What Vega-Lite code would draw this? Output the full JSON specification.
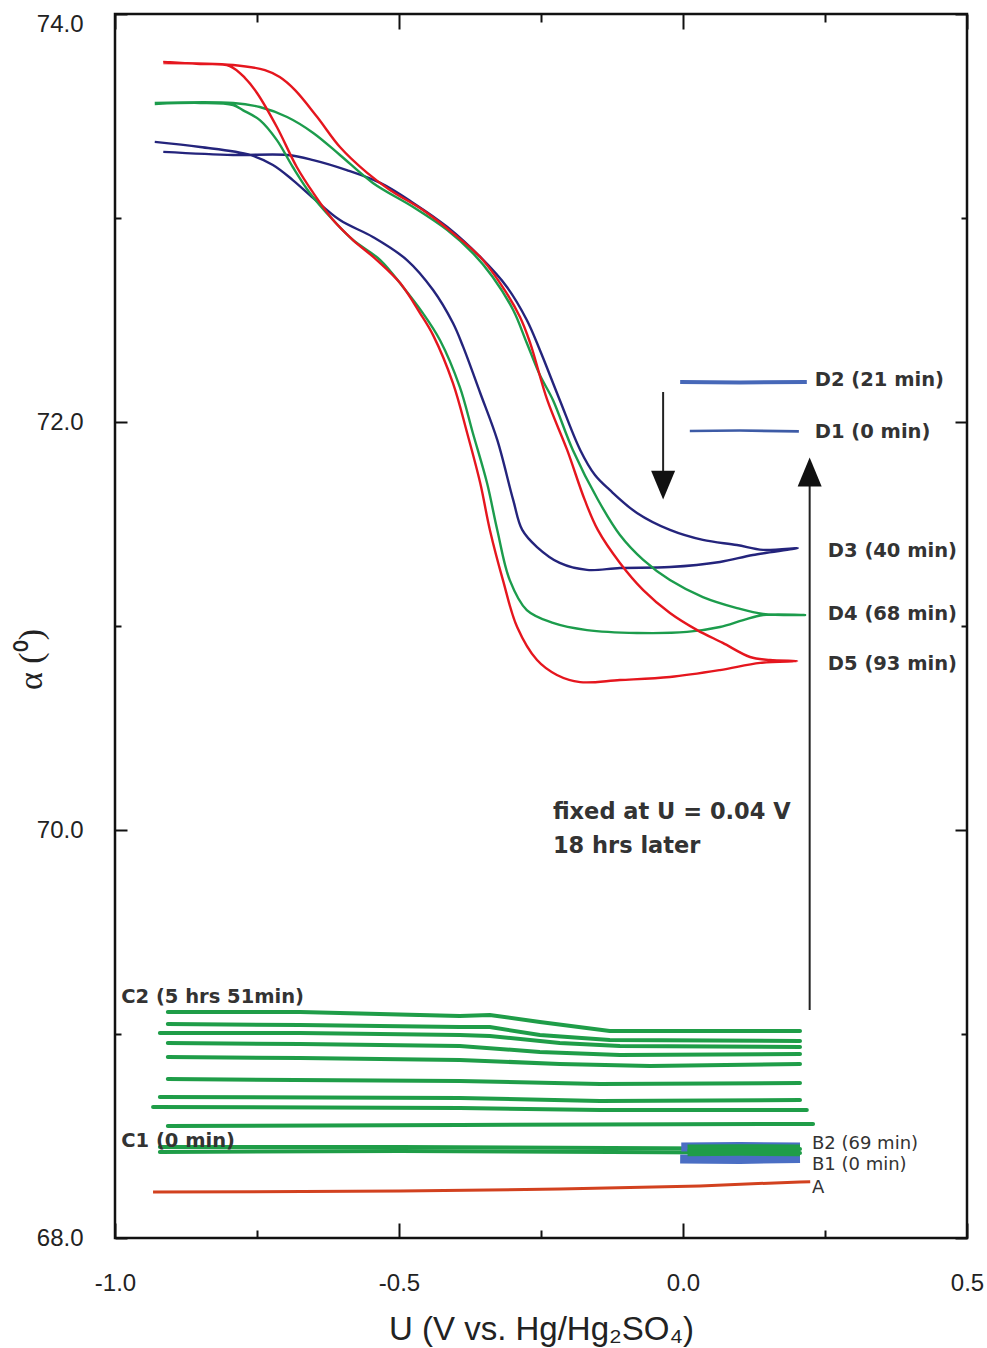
{
  "$schema": "https://vega.github.io/schema/vega-lite/v6.json",
  "width": 852,
  "height": 1224,
  "autosize": {"type": "none"},
  "padding": {"left": 115, "top": 14, "right": 20, "bottom": 110},
  "background": "white",
  "config": {
    "view": {"stroke": "#111", "strokeWidth": 2.5},
    "axis": {
      "grid": false,
      "domain": false,
      "labelFont": "Liberation Sans",
      "labelFontSize": 24,
      "labelColor": "#222",
      "tickColor": "#111",
      "tickWidth": 2,
      "titleFont": "Liberation Sans",
      "titleFontWeight": "normal",
      "titleColor": "#222"
    }
  },
  "datasets": {
    "curves": [
      {"g": "C", "s": "c10", "i": 1, "x": -0.907, "y": 69.108},
      {"g": "C", "s": "c10", "i": 2, "x": -0.674, "y": 69.108},
      {"g": "C", "s": "c10", "i": 3, "x": -0.393, "y": 69.088},
      {"g": "C", "s": "c10", "i": 4, "x": -0.34, "y": 69.093},
      {"g": "C", "s": "c10", "i": 5, "x": -0.252, "y": 69.059},
      {"g": "C", "s": "c10", "i": 6, "x": -0.129, "y": 69.015},
      {"g": "C", "s": "c10", "i": 7, "x": 0.03, "y": 69.015},
      {"g": "C", "s": "c10", "i": 8, "x": 0.206, "y": 69.015},
      {"g": "C", "s": "c9", "i": 1, "x": -0.907, "y": 69.049},
      {"g": "C", "s": "c9", "i": 2, "x": -0.674, "y": 69.044},
      {"g": "C", "s": "c9", "i": 3, "x": -0.393, "y": 69.034},
      {"g": "C", "s": "c9", "i": 4, "x": -0.34, "y": 69.034},
      {"g": "C", "s": "c9", "i": 5, "x": -0.252, "y": 68.995},
      {"g": "C", "s": "c9", "i": 6, "x": -0.129, "y": 68.971},
      {"g": "C", "s": "c9", "i": 7, "x": 0.206, "y": 68.966},
      {"g": "C", "s": "c8", "i": 1, "x": -0.921, "y": 69.005},
      {"g": "C", "s": "c8", "i": 2, "x": -0.674, "y": 69.005},
      {"g": "C", "s": "c8", "i": 3, "x": -0.393, "y": 68.995},
      {"g": "C", "s": "c8", "i": 4, "x": -0.34, "y": 68.99},
      {"g": "C", "s": "c8", "i": 5, "x": -0.217, "y": 68.956},
      {"g": "C", "s": "c8", "i": 6, "x": -0.111, "y": 68.941},
      {"g": "C", "s": "c8", "i": 7, "x": 0.206, "y": 68.936},
      {"g": "C", "s": "c7", "i": 1, "x": -0.907, "y": 68.956},
      {"g": "C", "s": "c7", "i": 2, "x": -0.674, "y": 68.951},
      {"g": "C", "s": "c7", "i": 3, "x": -0.393, "y": 68.941},
      {"g": "C", "s": "c7", "i": 4, "x": -0.252, "y": 68.912},
      {"g": "C", "s": "c7", "i": 5, "x": -0.111, "y": 68.897},
      {"g": "C", "s": "c7", "i": 6, "x": 0.206, "y": 68.902},
      {"g": "C", "s": "c6", "i": 1, "x": -0.907, "y": 68.887},
      {"g": "C", "s": "c6", "i": 2, "x": -0.674, "y": 68.882},
      {"g": "C", "s": "c6", "i": 3, "x": -0.393, "y": 68.873},
      {"g": "C", "s": "c6", "i": 4, "x": -0.217, "y": 68.853},
      {"g": "C", "s": "c6", "i": 5, "x": -0.058, "y": 68.843},
      {"g": "C", "s": "c6", "i": 6, "x": 0.206, "y": 68.853},
      {"g": "C", "s": "c5", "i": 1, "x": -0.907, "y": 68.779},
      {"g": "C", "s": "c5", "i": 2, "x": -0.393, "y": 68.77},
      {"g": "C", "s": "c5", "i": 3, "x": -0.146, "y": 68.755},
      {"g": "C", "s": "c5", "i": 4, "x": 0.206, "y": 68.76},
      {"g": "C", "s": "c4", "i": 1, "x": -0.921, "y": 68.691},
      {"g": "C", "s": "c4", "i": 2, "x": -0.393, "y": 68.686},
      {"g": "C", "s": "c4", "i": 3, "x": -0.146, "y": 68.672},
      {"g": "C", "s": "c4", "i": 4, "x": 0.206, "y": 68.676},
      {"g": "C", "s": "c3", "i": 1, "x": -0.933, "y": 68.642},
      {"g": "C", "s": "c3", "i": 2, "x": -0.393, "y": 68.637},
      {"g": "C", "s": "c3", "i": 3, "x": -0.146, "y": 68.627},
      {"g": "C", "s": "c3", "i": 4, "x": 0.218, "y": 68.627},
      {"g": "C", "s": "c2", "i": 1, "x": -0.907, "y": 68.549},
      {"g": "C", "s": "c2", "i": 2, "x": -0.393, "y": 68.554},
      {"g": "C", "s": "c2", "i": 3, "x": 0.229, "y": 68.559},
      {"g": "C", "s": "c1a", "i": 1, "x": -0.921, "y": 68.446},
      {"g": "C", "s": "c1a", "i": 2, "x": -0.498, "y": 68.446},
      {"g": "C", "s": "c1a", "i": 3, "x": 0.206, "y": 68.436},
      {"g": "C", "s": "c1b", "i": 1, "x": -0.921, "y": 68.422},
      {"g": "C", "s": "c1b", "i": 2, "x": -0.498, "y": 68.426},
      {"g": "C", "s": "c1b", "i": 3, "x": 0.206, "y": 68.417},

      {"g": "A", "s": "A", "i": 1, "x": -0.933, "y": 68.225},
      {"g": "A", "s": "A", "i": 2, "x": -0.498, "y": 68.23},
      {"g": "A", "s": "A", "i": 3, "x": -0.217, "y": 68.24},
      {"g": "A", "s": "A", "i": 4, "x": 0.03, "y": 68.255},
      {"g": "A", "s": "A", "i": 5, "x": 0.206, "y": 68.275},
      {"g": "A", "s": "A", "i": 6, "x": 0.224, "y": 68.276},

      {"g": "B1", "s": "b1a", "i": 1, "x": -0.003, "y": 68.446},
      {"g": "B1", "s": "b1a", "i": 2, "x": 0.1, "y": 68.448},
      {"g": "B1", "s": "b1a", "i": 3, "x": 0.206, "y": 68.446},
      {"g": "B1", "s": "b1b", "i": 1, "x": -0.005, "y": 68.387},
      {"g": "B1", "s": "b1b", "i": 2, "x": 0.1, "y": 68.385},
      {"g": "B1", "s": "b1b", "i": 3, "x": 0.206, "y": 68.39},
      {"g": "B2", "s": "b2a", "i": 1, "x": 0.008, "y": 68.441},
      {"g": "B2", "s": "b2a", "i": 2, "x": 0.1, "y": 68.443},
      {"g": "B2", "s": "b2a", "i": 3, "x": 0.206, "y": 68.441},
      {"g": "B2", "s": "b2b", "i": 1, "x": 0.008, "y": 68.418},
      {"g": "B2", "s": "b2b", "i": 2, "x": 0.1, "y": 68.42},
      {"g": "B2", "s": "b2b", "i": 3, "x": 0.206, "y": 68.418},

      {"g": "D3", "s": "D3", "i": 1, "x": -0.93, "y": 73.373},
      {"g": "D3", "s": "D3", "i": 2, "x": -0.85, "y": 73.348},
      {"g": "D3", "s": "D3", "i": 3, "x": -0.762, "y": 73.309},
      {"g": "D3", "s": "D3", "i": 4, "x": -0.722, "y": 73.26},
      {"g": "D3", "s": "D3", "i": 5, "x": -0.687, "y": 73.186},
      {"g": "D3", "s": "D3", "i": 6, "x": -0.651, "y": 73.098},
      {"g": "D3", "s": "D3", "i": 7, "x": -0.604, "y": 72.99},
      {"g": "D3", "s": "D3", "i": 8, "x": -0.546, "y": 72.907},
      {"g": "D3", "s": "D3", "i": 9, "x": -0.486, "y": 72.794},
      {"g": "D3", "s": "D3", "i": 10, "x": -0.44, "y": 72.647},
      {"g": "D3", "s": "D3", "i": 11, "x": -0.405, "y": 72.485},
      {"g": "D3", "s": "D3", "i": 12, "x": -0.387, "y": 72.368},
      {"g": "D3", "s": "D3", "i": 13, "x": -0.357, "y": 72.142},
      {"g": "D3", "s": "D3", "i": 14, "x": -0.327, "y": 71.912},
      {"g": "D3", "s": "D3", "i": 15, "x": -0.299, "y": 71.618},
      {"g": "D3", "s": "D3", "i": 16, "x": -0.283, "y": 71.471},
      {"g": "D3", "s": "D3", "i": 17, "x": -0.257, "y": 71.387},
      {"g": "D3", "s": "D3", "i": 18, "x": -0.217, "y": 71.309},
      {"g": "D3", "s": "D3", "i": 19, "x": -0.169, "y": 71.275},
      {"g": "D3", "s": "D3", "i": 20, "x": -0.111, "y": 71.284},
      {"g": "D3", "s": "D3", "i": 21, "x": -0.023, "y": 71.289},
      {"g": "D3", "s": "D3", "i": 22, "x": 0.065, "y": 71.314},
      {"g": "D3", "s": "D3", "i": 23, "x": 0.123, "y": 71.348},
      {"g": "D3", "s": "D3", "i": 24, "x": 0.202, "y": 71.382},
      {"g": "D3", "s": "D3", "i": 25, "x": 0.141, "y": 71.373},
      {"g": "D3", "s": "D3", "i": 26, "x": 0.095, "y": 71.397},
      {"g": "D3", "s": "D3", "i": 27, "x": 0.035, "y": 71.422},
      {"g": "D3", "s": "D3", "i": 28, "x": -0.023, "y": 71.471},
      {"g": "D3", "s": "D3", "i": 29, "x": -0.081, "y": 71.554},
      {"g": "D3", "s": "D3", "i": 30, "x": -0.129, "y": 71.667},
      {"g": "D3", "s": "D3", "i": 31, "x": -0.155, "y": 71.74},
      {"g": "D3", "s": "D3", "i": 32, "x": -0.181, "y": 71.863},
      {"g": "D3", "s": "D3", "i": 33, "x": -0.217, "y": 72.108},
      {"g": "D3", "s": "D3", "i": 34, "x": -0.252, "y": 72.353},
      {"g": "D3", "s": "D3", "i": 35, "x": -0.275, "y": 72.5},
      {"g": "D3", "s": "D3", "i": 36, "x": -0.31, "y": 72.662},
      {"g": "D3", "s": "D3", "i": 37, "x": -0.357, "y": 72.809},
      {"g": "D3", "s": "D3", "i": 38, "x": -0.415, "y": 72.956},
      {"g": "D3", "s": "D3", "i": 39, "x": -0.475, "y": 73.074},
      {"g": "D3", "s": "D3", "i": 40, "x": -0.533, "y": 73.172},
      {"g": "D3", "s": "D3", "i": 41, "x": -0.592, "y": 73.235},
      {"g": "D3", "s": "D3", "i": 42, "x": -0.651, "y": 73.284},
      {"g": "D3", "s": "D3", "i": 43, "x": -0.697, "y": 73.309},
      {"g": "D3", "s": "D3", "i": 44, "x": -0.792, "y": 73.309},
      {"g": "D3", "s": "D3", "i": 45, "x": -0.915, "y": 73.324},

      {"g": "D4", "s": "D4", "i": 1, "x": -0.93, "y": 73.559},
      {"g": "D4", "s": "D4", "i": 2, "x": -0.85, "y": 73.564},
      {"g": "D4", "s": "D4", "i": 3, "x": -0.792, "y": 73.554},
      {"g": "D4", "s": "D4", "i": 4, "x": -0.775, "y": 73.529},
      {"g": "D4", "s": "D4", "i": 5, "x": -0.745, "y": 73.48},
      {"g": "D4", "s": "D4", "i": 6, "x": -0.715, "y": 73.382},
      {"g": "D4", "s": "D4", "i": 7, "x": -0.687, "y": 73.25},
      {"g": "D4", "s": "D4", "i": 8, "x": -0.657, "y": 73.123},
      {"g": "D4", "s": "D4", "i": 9, "x": -0.616, "y": 72.99},
      {"g": "D4", "s": "D4", "i": 10, "x": -0.581, "y": 72.892},
      {"g": "D4", "s": "D4", "i": 11, "x": -0.533, "y": 72.794},
      {"g": "D4", "s": "D4", "i": 12, "x": -0.493, "y": 72.662},
      {"g": "D4", "s": "D4", "i": 13, "x": -0.458, "y": 72.534},
      {"g": "D4", "s": "D4", "i": 14, "x": -0.428, "y": 72.402},
      {"g": "D4", "s": "D4", "i": 15, "x": -0.393, "y": 72.172},
      {"g": "D4", "s": "D4", "i": 16, "x": -0.37, "y": 71.946},
      {"g": "D4", "s": "D4", "i": 17, "x": -0.345, "y": 71.701},
      {"g": "D4", "s": "D4", "i": 18, "x": -0.327, "y": 71.471},
      {"g": "D4", "s": "D4", "i": 19, "x": -0.305, "y": 71.225},
      {"g": "D4", "s": "D4", "i": 20, "x": -0.275, "y": 71.078},
      {"g": "D4", "s": "D4", "i": 21, "x": -0.229, "y": 71.015},
      {"g": "D4", "s": "D4", "i": 22, "x": -0.169, "y": 70.98},
      {"g": "D4", "s": "D4", "i": 23, "x": -0.081, "y": 70.966},
      {"g": "D4", "s": "D4", "i": 24, "x": 0.007, "y": 70.971},
      {"g": "D4", "s": "D4", "i": 25, "x": 0.065, "y": 70.995},
      {"g": "D4", "s": "D4", "i": 26, "x": 0.106, "y": 71.029},
      {"g": "D4", "s": "D4", "i": 27, "x": 0.141, "y": 71.054},
      {"g": "D4", "s": "D4", "i": 28, "x": 0.215, "y": 71.054},
      {"g": "D4", "s": "D4", "i": 29, "x": 0.141, "y": 71.059},
      {"g": "D4", "s": "D4", "i": 30, "x": 0.095, "y": 71.088},
      {"g": "D4", "s": "D4", "i": 31, "x": 0.035, "y": 71.142},
      {"g": "D4", "s": "D4", "i": 32, "x": -0.023, "y": 71.225},
      {"g": "D4", "s": "D4", "i": 33, "x": -0.07, "y": 71.324},
      {"g": "D4", "s": "D4", "i": 34, "x": -0.111, "y": 71.446},
      {"g": "D4", "s": "D4", "i": 35, "x": -0.15, "y": 71.62},
      {"g": "D4", "s": "D4", "i": 36, "x": -0.194, "y": 71.863},
      {"g": "D4", "s": "D4", "i": 37, "x": -0.229, "y": 72.108},
      {"g": "D4", "s": "D4", "i": 38, "x": -0.252, "y": 72.23},
      {"g": "D4", "s": "D4", "i": 39, "x": -0.275, "y": 72.387},
      {"g": "D4", "s": "D4", "i": 40, "x": -0.299, "y": 72.549},
      {"g": "D4", "s": "D4", "i": 41, "x": -0.335, "y": 72.711},
      {"g": "D4", "s": "D4", "i": 42, "x": -0.37, "y": 72.828},
      {"g": "D4", "s": "D4", "i": 43, "x": -0.415, "y": 72.941},
      {"g": "D4", "s": "D4", "i": 44, "x": -0.475, "y": 73.054},
      {"g": "D4", "s": "D4", "i": 45, "x": -0.546, "y": 73.172},
      {"g": "D4", "s": "D4", "i": 46, "x": -0.604, "y": 73.309},
      {"g": "D4", "s": "D4", "i": 47, "x": -0.651, "y": 73.417},
      {"g": "D4", "s": "D4", "i": 48, "x": -0.697, "y": 73.495},
      {"g": "D4", "s": "D4", "i": 49, "x": -0.745, "y": 73.544},
      {"g": "D4", "s": "D4", "i": 50, "x": -0.792, "y": 73.564},
      {"g": "D4", "s": "D4", "i": 51, "x": -0.93, "y": 73.564},

      {"g": "D5", "s": "D5", "i": 1, "x": -0.915, "y": 73.765},
      {"g": "D5", "s": "D5", "i": 2, "x": -0.85, "y": 73.755},
      {"g": "D5", "s": "D5", "i": 3, "x": -0.798, "y": 73.745},
      {"g": "D5", "s": "D5", "i": 4, "x": -0.771, "y": 73.686},
      {"g": "D5", "s": "D5", "i": 5, "x": -0.75, "y": 73.613},
      {"g": "D5", "s": "D5", "i": 6, "x": -0.715, "y": 73.446},
      {"g": "D5", "s": "D5", "i": 7, "x": -0.68, "y": 73.25},
      {"g": "D5", "s": "D5", "i": 8, "x": -0.651, "y": 73.123},
      {"g": "D5", "s": "D5", "i": 9, "x": -0.616, "y": 72.99},
      {"g": "D5", "s": "D5", "i": 10, "x": -0.581, "y": 72.892},
      {"g": "D5", "s": "D5", "i": 11, "x": -0.539, "y": 72.794},
      {"g": "D5", "s": "D5", "i": 12, "x": -0.498, "y": 72.681},
      {"g": "D5", "s": "D5", "i": 13, "x": -0.463, "y": 72.534},
      {"g": "D5", "s": "D5", "i": 14, "x": -0.44, "y": 72.426},
      {"g": "D5", "s": "D5", "i": 15, "x": -0.405, "y": 72.191},
      {"g": "D5", "s": "D5", "i": 16, "x": -0.38, "y": 71.946},
      {"g": "D5", "s": "D5", "i": 17, "x": -0.357, "y": 71.701},
      {"g": "D5", "s": "D5", "i": 18, "x": -0.34, "y": 71.471},
      {"g": "D5", "s": "D5", "i": 19, "x": -0.317, "y": 71.225},
      {"g": "D5", "s": "D5", "i": 20, "x": -0.292, "y": 70.995},
      {"g": "D5", "s": "D5", "i": 21, "x": -0.257, "y": 70.833},
      {"g": "D5", "s": "D5", "i": 22, "x": -0.222, "y": 70.76},
      {"g": "D5", "s": "D5", "i": 23, "x": -0.181, "y": 70.725},
      {"g": "D5", "s": "D5", "i": 24, "x": -0.111, "y": 70.735},
      {"g": "D5", "s": "D5", "i": 25, "x": -0.023, "y": 70.75},
      {"g": "D5", "s": "D5", "i": 26, "x": 0.065, "y": 70.784},
      {"g": "D5", "s": "D5", "i": 27, "x": 0.136, "y": 70.819},
      {"g": "D5", "s": "D5", "i": 28, "x": 0.201, "y": 70.828},
      {"g": "D5", "s": "D5", "i": 29, "x": 0.153, "y": 70.833},
      {"g": "D5", "s": "D5", "i": 30, "x": 0.118, "y": 70.848},
      {"g": "D5", "s": "D5", "i": 31, "x": 0.07, "y": 70.917},
      {"g": "D5", "s": "D5", "i": 32, "x": 0.025, "y": 70.98},
      {"g": "D5", "s": "D5", "i": 33, "x": -0.023, "y": 71.064},
      {"g": "D5", "s": "D5", "i": 34, "x": -0.07, "y": 71.176},
      {"g": "D5", "s": "D5", "i": 35, "x": -0.111, "y": 71.309},
      {"g": "D5", "s": "D5", "i": 36, "x": -0.15, "y": 71.471},
      {"g": "D5", "s": "D5", "i": 37, "x": -0.173, "y": 71.618},
      {"g": "D5", "s": "D5", "i": 38, "x": -0.204, "y": 71.863},
      {"g": "D5", "s": "D5", "i": 39, "x": -0.239, "y": 72.108},
      {"g": "D5", "s": "D5", "i": 40, "x": -0.269, "y": 72.387},
      {"g": "D5", "s": "D5", "i": 41, "x": -0.287, "y": 72.515},
      {"g": "D5", "s": "D5", "i": 42, "x": -0.322, "y": 72.681},
      {"g": "D5", "s": "D5", "i": 43, "x": -0.357, "y": 72.809},
      {"g": "D5", "s": "D5", "i": 44, "x": -0.405, "y": 72.926},
      {"g": "D5", "s": "D5", "i": 45, "x": -0.458, "y": 73.039},
      {"g": "D5", "s": "D5", "i": 46, "x": -0.516, "y": 73.137},
      {"g": "D5", "s": "D5", "i": 47, "x": -0.556, "y": 73.221},
      {"g": "D5", "s": "D5", "i": 48, "x": -0.604, "y": 73.348},
      {"g": "D5", "s": "D5", "i": 49, "x": -0.644, "y": 73.495},
      {"g": "D5", "s": "D5", "i": 50, "x": -0.683, "y": 73.627},
      {"g": "D5", "s": "D5", "i": 51, "x": -0.71, "y": 73.691},
      {"g": "D5", "s": "D5", "i": 52, "x": -0.736, "y": 73.725},
      {"g": "D5", "s": "D5", "i": 53, "x": -0.792, "y": 73.75},
      {"g": "D5", "s": "D5", "i": 54, "x": -0.915, "y": 73.76},

      {"g": "D1", "s": "D1", "i": 1, "x": 0.012, "y": 71.956},
      {"g": "D1", "s": "D1", "i": 2, "x": 0.1, "y": 71.958},
      {"g": "D1", "s": "D1", "i": 3, "x": 0.204, "y": 71.954},
      {"g": "D2", "s": "D2", "i": 1, "x": -0.005, "y": 72.196},
      {"g": "D2", "s": "D2", "i": 2, "x": 0.1, "y": 72.194},
      {"g": "D2", "s": "D2", "i": 3, "x": 0.218, "y": 72.196}
    ],
    "notes": [
      {"k": "D", "t": "D2 (21 min)", "x": 0.232, "y": 72.206},
      {"k": "D", "t": "D1 (0 min)", "x": 0.232, "y": 71.951},
      {"k": "D", "t": "D3 (40 min)", "x": 0.255, "y": 71.368},
      {"k": "D", "t": "D4 (68 min)", "x": 0.255, "y": 71.059},
      {"k": "D", "t": "D5 (93 min)", "x": 0.255, "y": 70.814},
      {"k": "F", "t": "fixed at U = 0.04 V", "x": -0.229, "y": 70.088},
      {"k": "F", "t": "18 hrs later", "x": -0.229, "y": 69.922},
      {"k": "D", "t": "C2 (5 hrs 51min)", "x": -0.989, "y": 69.181},
      {"k": "D", "t": "C1 (0 min)", "x": -0.989, "y": 68.475},
      {"k": "B", "t": "B2 (69 min)", "x": 0.227, "y": 68.463},
      {"k": "B", "t": "B1 (0 min)", "x": 0.227, "y": 68.36},
      {"k": "B", "t": "A", "x": 0.227, "y": 68.245}
    ]
  },
  "layer": [
    {
      "data": {"name": "curves"},
      "transform": [{"filter": "datum.g == 'C'"}],
      "mark": {"type": "line", "color": "#1f9d48", "strokeWidth": 4, "strokeCap": "round"},
      "encoding": {
        "x": {
          "field": "x", "type": "quantitative",
          "scale": {"domain": [-1, 0.5], "nice": false, "zero": false},
          "axis": {
            "orient": "bottom",
            "values": [-1, -0.75, -0.5, -0.25, 0, 0.25, 0.5],
            "labelExpr": "abs(datum.value * 4) % 2 == 0 ? replace(format(datum.value, '.1f'), '−', '-') : ''",
            "tickSize": {"condition": {"test": "abs(datum.value * 4) % 2 == 0", "value": -15}, "value": -8},
            "labelPadding": 48,
            "labelOverlap": false,
            "labelFlush": false,
            "title": "U (V vs. Hg/Hg₂SO₄)",
            "titleFontSize": 33,
            "titlePadding": 11
          }
        },
        "y": {
          "field": "y", "type": "quantitative",
          "scale": {"domain": [68, 74], "nice": false, "zero": false},
          "axis": {
            "orient": "left",
            "values": [68, 69, 70, 71, 72, 73, 74],
            "labelExpr": "datum.value % 2 == 0 ? format(datum.value, '.1f') : ''",
            "tickSize": {"condition": {"test": "datum.value % 2 == 0", "value": -12}, "value": -6},
            "labelOffset": {"condition": {"test": "datum.value == 74", "value": 10}, "value": 0},
            "labelPadding": 44,
            "labelOverlap": false,
            "labelFlush": false,
            "title": "α (⁰)",
            "titleFont": "Liberation Serif",
            "titleFontSize": 34,
            "titleAngle": -90,
            "titleX": -67,
            "titleY": 645,
            "titleAlign": "center",
            "titleBaseline": "bottom"
          }
        },
        "order": {"field": "i", "type": "quantitative"},
        "detail": {"field": "s", "type": "nominal"}
      }
    },
    {
      "data": {"name": "curves"},
      "transform": [{"filter": "datum.g == 'A'"}],
      "mark": {"type": "line", "color": "#d2411f", "strokeWidth": 3},
      "encoding": {
        "x": {
          "field": "x", "type": "quantitative",
          "axis": {
            "orient": "top",
            "values": [-1, -0.75, -0.5, -0.25, 0, 0.25, 0.5],
            "labels": false,
            "tickSize": {"condition": {"test": "abs(datum.value * 4) % 2 == 0", "value": -15}, "value": -8},
            "title": null
          }
        },
        "y": {
          "field": "y", "type": "quantitative",
          "axis": {
            "orient": "right",
            "values": [68, 69, 70, 71, 72, 73, 74],
            "labels": false,
            "tickSize": {"condition": {"test": "datum.value % 2 == 0", "value": -12}, "value": -6},
            "title": null
          }
        },
        "order": {"field": "i", "type": "quantitative"},
        "detail": {"field": "s", "type": "nominal"}
      }
    },
    {
      "data": {"name": "curves"},
      "transform": [{"filter": "datum.g == 'B1'"}],
      "mark": {"type": "line", "color": "#4a6ec4", "strokeWidth": 9},
      "encoding": {
        "x": {"field": "x", "type": "quantitative", "axis": null},
        "y": {"field": "y", "type": "quantitative", "axis": null},
        "order": {"field": "i", "type": "quantitative"},
        "detail": {"field": "s", "type": "nominal"}
      }
    },
    {
      "data": {"name": "curves"},
      "transform": [{"filter": "datum.g == 'B2'"}],
      "mark": {"type": "line", "color": "#1f9d48", "strokeWidth": 7},
      "encoding": {
        "x": {"field": "x", "type": "quantitative", "axis": null},
        "y": {"field": "y", "type": "quantitative", "axis": null},
        "order": {"field": "i", "type": "quantitative"},
        "detail": {"field": "s", "type": "nominal"}
      }
    },
    {
      "data": {"name": "curves"},
      "transform": [{"filter": "datum.g == 'D3'"}],
      "mark": {"type": "line", "color": "#24247c", "strokeWidth": 2.4, "interpolate": "catmull-rom"},
      "encoding": {
        "x": {"field": "x", "type": "quantitative", "axis": null},
        "y": {"field": "y", "type": "quantitative", "axis": null},
        "order": {"field": "i", "type": "quantitative"}
      }
    },
    {
      "data": {"name": "curves"},
      "transform": [{"filter": "datum.g == 'D4'"}],
      "mark": {"type": "line", "color": "#1c9c4c", "strokeWidth": 2.4, "interpolate": "catmull-rom"},
      "encoding": {
        "x": {"field": "x", "type": "quantitative", "axis": null},
        "y": {"field": "y", "type": "quantitative", "axis": null},
        "order": {"field": "i", "type": "quantitative"}
      }
    },
    {
      "data": {"name": "curves"},
      "transform": [{"filter": "datum.g == 'D5'"}],
      "mark": {"type": "line", "color": "#e5161e", "strokeWidth": 2.4, "interpolate": "catmull-rom"},
      "encoding": {
        "x": {"field": "x", "type": "quantitative", "axis": null},
        "y": {"field": "y", "type": "quantitative", "axis": null},
        "order": {"field": "i", "type": "quantitative"}
      }
    },
    {
      "data": {"name": "curves"},
      "transform": [{"filter": "datum.g == 'D1'"}],
      "mark": {"type": "line", "color": "#3d5ba6", "strokeWidth": 2.6},
      "encoding": {
        "x": {"field": "x", "type": "quantitative", "axis": null},
        "y": {"field": "y", "type": "quantitative", "axis": null},
        "order": {"field": "i", "type": "quantitative"}
      }
    },
    {
      "data": {"name": "curves"},
      "transform": [{"filter": "datum.g == 'D2'"}],
      "mark": {"type": "line", "color": "#4768b8", "strokeWidth": 4},
      "encoding": {
        "x": {"field": "x", "type": "quantitative", "axis": null},
        "y": {"field": "y", "type": "quantitative", "axis": null},
        "order": {"field": "i", "type": "quantitative"}
      }
    },
    {
      "data": {"values": [{}]},
      "mark": {"type": "rule", "color": "#222", "strokeWidth": 2},
      "encoding": {
        "x": {"datum": -0.035, "type": "quantitative", "axis": null},
        "y": {"datum": 72.147, "type": "quantitative", "axis": null},
        "y2": {"datum": 71.66}
      }
    },
    {
      "data": {"values": [{}]},
      "mark": {"type": "point", "shape": "M-1,-1.2L1,-1.2L0,1.2Z", "filled": true, "color": "#111", "opacity": 1, "size": 576},
      "encoding": {
        "x": {"datum": -0.035, "type": "quantitative", "axis": null},
        "y": {"datum": 71.691, "type": "quantitative", "axis": null}
      }
    },
    {
      "data": {"values": [{}]},
      "mark": {"type": "rule", "color": "#222", "strokeWidth": 2},
      "encoding": {
        "x": {"datum": 0.223, "type": "quantitative", "axis": null},
        "y": {"datum": 69.118, "type": "quantitative", "axis": null},
        "y2": {"datum": 71.74}
      }
    },
    {
      "data": {"values": [{}]},
      "mark": {"type": "point", "shape": "M-1,1.2L1,1.2L0,-1.2Z", "filled": true, "color": "#111", "opacity": 1, "size": 576},
      "encoding": {
        "x": {"datum": 0.223, "type": "quantitative", "axis": null},
        "y": {"datum": 71.755, "type": "quantitative", "axis": null}
      }
    },
    {
      "data": {"name": "notes"},
      "transform": [{"filter": "datum.k == 'D'"}],
      "mark": {"type": "text", "align": "left", "baseline": "middle", "font": "DejaVu Sans", "fontWeight": "bold", "fontSize": 19.5, "color": "#333"},
      "encoding": {
        "x": {"field": "x", "type": "quantitative", "axis": null},
        "y": {"field": "y", "type": "quantitative", "axis": null},
        "text": {"field": "t"}
      }
    },
    {
      "data": {"name": "notes"},
      "transform": [{"filter": "datum.k == 'F'"}],
      "mark": {"type": "text", "align": "left", "baseline": "middle", "font": "DejaVu Sans", "fontWeight": "bold", "fontSize": 22.5, "color": "#333"},
      "encoding": {
        "x": {"field": "x", "type": "quantitative", "axis": null},
        "y": {"field": "y", "type": "quantitative", "axis": null},
        "text": {"field": "t"}
      }
    },
    {
      "data": {"name": "notes"},
      "transform": [{"filter": "datum.k == 'B'"}],
      "mark": {"type": "text", "align": "left", "baseline": "middle", "font": "DejaVu Sans", "fontSize": 18, "color": "#333"},
      "encoding": {
        "x": {"field": "x", "type": "quantitative", "axis": null},
        "y": {"field": "y", "type": "quantitative", "axis": null},
        "text": {"field": "t"}
      }
    }
  ],
  "resolve": {"axis": {"x": "independent", "y": "independent"}}
}
